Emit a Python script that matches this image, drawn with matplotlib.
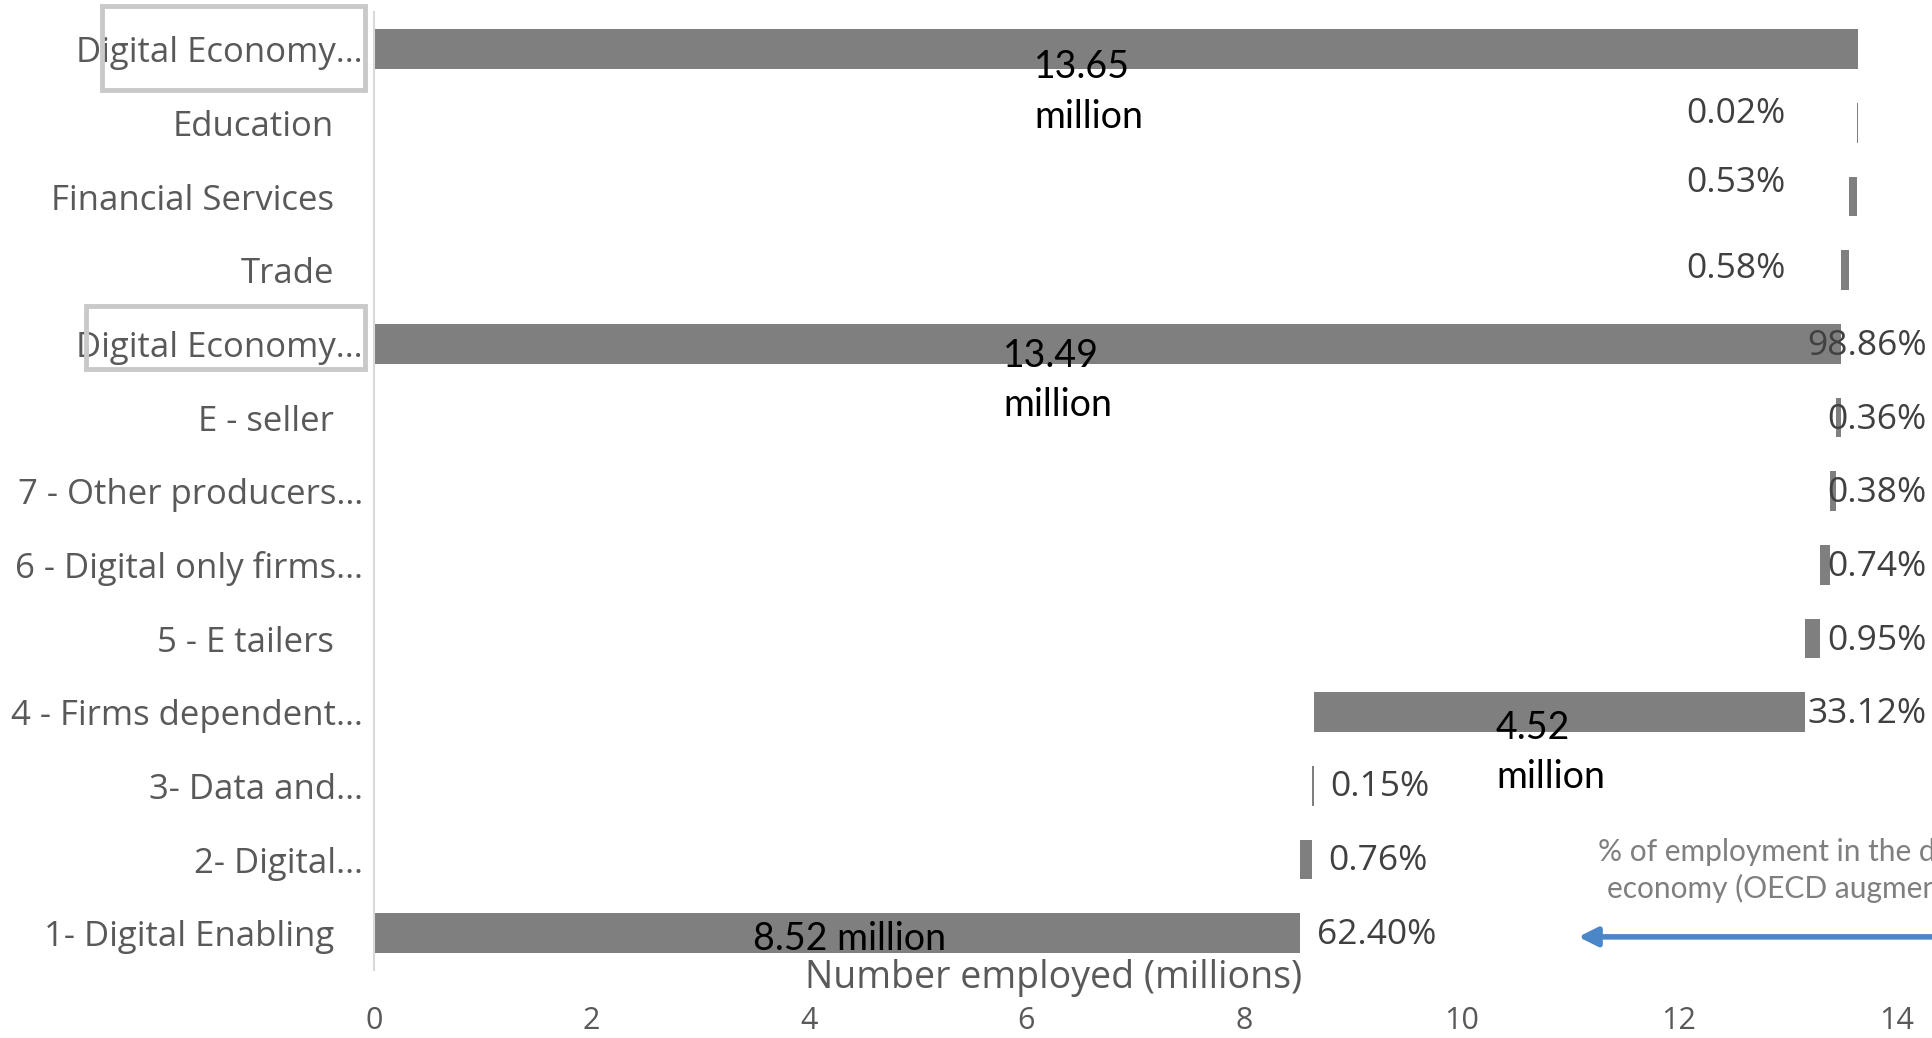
#!/usr/bin/env python3
"""Waterfall of employment in the digital economy (millions), Excel-style."""

import matplotlib

matplotlib.use("Agg")
import matplotlib.pyplot as plt
import matplotlib.transforms as mtransforms
from matplotlib.patches import Rectangle

# categories, top to bottom
categories = [
    "Digital Economy…",
    "Education",
    "Financial Services",
    "Trade",
    "Digital Economy…",
    "E - seller",
    "7 - Other producers…",
    "6 - Digital only firms…",
    "5 - E tailers",
    "4 - Firms dependent…",
    "3- Data and…",
    "2- Digital…",
    "1- Digital Enabling",
]
# employment per step, millions
employed = [13.65, 0.003, 0.072, 0.079, 13.49, 0.049, 0.052, 0.101, 0.130, 4.52, 0.020, 0.104, 8.52]
# rows that are totals (start at zero)
is_total = [True, False, False, False, True, False, False, False, False, False, False, False, True]
share_labels = [
    "", "0.02%", "0.53%", "0.58%", "98.86%", "0.36%", "0.38%",
    "0.74%", "0.95%", "33.12%", "0.15%", "0.76%", "62.40%",
]
million_labels = ["13.65\nmillion", "13.49\nmillion", "4.52\nmillion", "8.52 million"]
x_ticks = [0, 2, 4, 6, 8, 10, 12, 14]

BAR = "#7f7f7f"
TXT = "#595959"
NARROW = ["Lato", "DejaVu Sans"]

fig = plt.figure(figsize=(19.33, 10.38), dpi=100)
ax = fig.add_axes([0.1935, 0.0655, 0.7875, 0.9225])

# waterfall: steps build from the bottom row upward
n = len(categories)
left = [0.0] * n
running = 0.0
for i in range(n - 1, -1, -1):
    if is_total[i]:
        left[i] = 0.0
        running = employed[i]
    else:
        left[i] = running
        running += employed[i]

rows = list(range(n))
ax.barh(rows, employed, left=left, height=0.54, color=BAR, zorder=2)

ax.set_xlim(0, 14)
ax.set_ylim(n - 0.5, -0.5)
ax.set_xticks(x_ticks)
ax.set_xticklabels([str(t) for t in x_ticks], fontsize=22, color=TXT, family="Open Sans")
ax.tick_params(axis="x", length=0, pad=26)
ax.set_yticks(rows)
ax.set_yticklabels(categories, fontsize=25, color=TXT, family="Open Sans")
ax.tick_params(axis="y", length=0, pad=8)
for lab in ax.get_yticklabels():
    if not lab.get_text().endswith("…"):
        lab.set_transform(lab.get_transform() + mtransforms.ScaledTranslation(-0.29, 0, fig.dpi_scale_trans))

for side in ["top", "right", "bottom"]:
    ax.spines[side].set_visible(False)
ax.spines["left"].set_color("#d9d9d9")
ax.spines["left"].set_linewidth(1.5)

# share labels
for i, txt in enumerate(share_labels):
    if not txt:
        continue
    end = left[i] + employed[i]
    if i >= 10:
        ax.text(end + 0.15, i + 0.02, txt, ha="left", va="center", fontsize=25.5,
                color="#404040", family="Open Sans")
    elif i >= 4:
        ax.text(14.28, i + 0.03, txt, ha="right", va="center", fontsize=25.5,
                color="#404040", family="Open Sans")
    else:
        dy = {1: -0.12, 2: -0.18, 3: -0.02}[i]
        ax.text(12.98, i + dy, txt, ha="right", va="center", fontsize=25.5,
                color="#404040", family="Open Sans")

# million labels
million_pos = [(6.57, 0.58), (6.29, 4.5), (10.82, 9.55), (4.37, 12.08)]
for txt, (x, y) in zip(million_labels, million_pos):
    ax.text(x, y, txt, ha="center", va="center", fontsize=27, color="black",
            family=NARROW, linespacing=1.45, multialignment="left")

# annotation with arrow
ax.text(11.26, 11.15, "% of employment in the digital\neconomy (OECD augmented)",
        ha="left", va="center", fontsize=21.5, color="#7f7f7f", family=NARROW,
        linespacing=1.35, multialignment="center", clip_on=False)
ax.annotate("", xy=(11.05, 12.05), xytext=(15.5, 12.05),
            arrowprops=dict(arrowstyle="-|>", color="#4a86c8", lw=4,
                            mutation_scale=28), annotation_clip=False)

fig.text(1054 / 1933, 1 - 978 / 1038, "Number employed (millions)", ha="center",
         va="center", fontsize=27, color=TXT, family="Open Sans")

# highlight boxes around the two total labels (figure pixels)
for x0, y0, x1, y1 in [(102, 6, 365, 90), (86, 306, 365, 369)]:
    fig.patches.append(Rectangle((x0 / 1933, 1 - y1 / 1038), (x1 - x0) / 1933,
                                 (y1 - y0) / 1038, transform=fig.transFigure,
                                 fill=False, edgecolor="#c9c9c9", linewidth=3.5,
                                 zorder=10))

fig.savefig("out.png", dpi=100, facecolor="white")
